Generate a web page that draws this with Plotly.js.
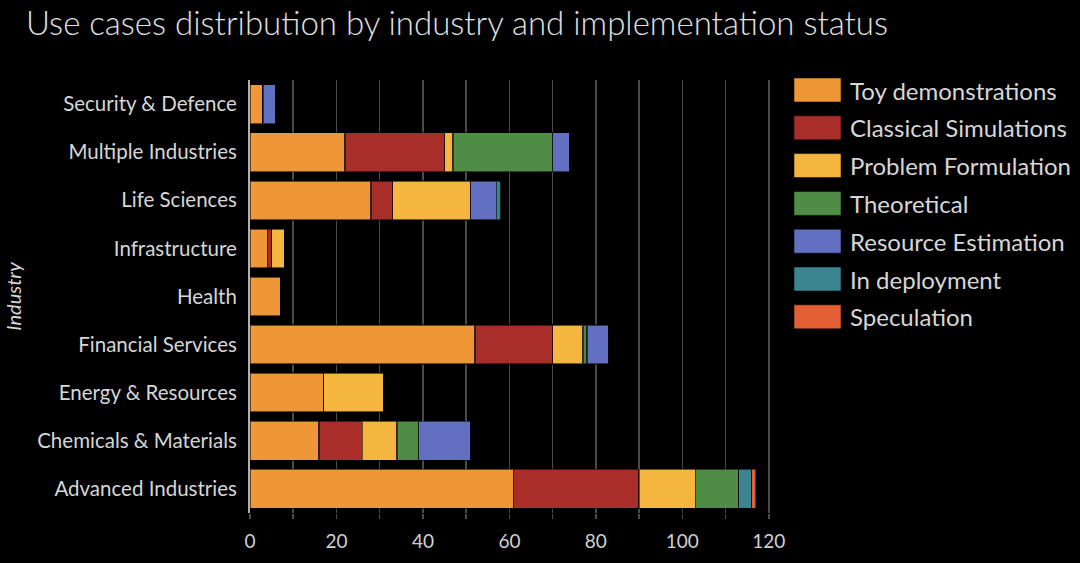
<!DOCTYPE html>
<html>
<head>
<meta charset="utf-8">
<script src="https://cdn.plot.ly/plotly-3.0.1.min.js"></script>
<style>html,body{margin:0;padding:0;background:#000;}#chart{width:1080px;height:563px;}</style>
</head>
<body>
<div id="chart"></div>
<script>
// Categories (bottom to top)
const industries = ['Advanced Industries', 'Chemicals & Materials', 'Energy & Resources', 'Financial Services', 'Health', 'Infrastructure', 'Life Sciences', 'Multiple Industries', 'Security & Defence'];
const seriesNames = ['Toy demonstrations', 'Classical Simulations', 'Problem Formulation', 'Theoretical', 'Resource Estimation', 'In deployment', 'Speculation'];
const toyDemonstrations    = [61, 16, 17, 52, 7, 4, 28, 22, 3];
const classicalSimulations = [29, 10, 0, 18, 0, 1, 5, 23, 0];
const problemFormulation   = [13, 8, 14, 7, 0, 3, 18, 2, 0];
const theoretical          = [10, 5, 0, 1, 0, 0, 0, 23, 0];
const resourceEstimation   = [0, 12, 0, 5, 0, 0, 6, 4, 3];
const inDeployment         = [3, 0, 0, 0, 0, 0, 1, 0, 0];
const speculation          = [1, 0, 0, 0, 0, 0, 0, 0, 0];
const seriesValues = [toyDemonstrations, classicalSimulations, problemFormulation, theoretical, resourceEstimation, inDeployment, speculation];
const seriesColors = ['#EF9636', '#A92D28', '#F4B63F', '#4F8C45', '#6170C0', '#3A8590', '#E25F33'];
const xTicks = [0, 20, 40, 60, 80, 100, 120];

const traces = seriesNames.map((name, i) => ({
  type: 'bar', orientation: 'h', name: name,
  y: industries, x: seriesValues[i],
  marker: {color: seriesColors[i], line: {color: 'rgba(0,0,0,0.55)', width: 1.5}},
  showlegend: false, hoverinfo: 'x+y+name'
}));

// custom legend (large swatches like the reference)
const W = 1080, H = 563;
const mL = 250, mR = 306, mT = 80, mB = 50;
const pw = W - mL - mR, ph = H - mT - mB;
const px2x = p => (p - mL) / pw;
const py2y = p => 1 - (p - mT) / ph;
const shapes = [];
const annotations = [];
seriesNames.forEach((name, i) => {
  const cy = 90 + i * 37.8;
  shapes.push({type: 'rect', xref: 'paper', yref: 'paper',
    x0: px2x(794), x1: px2x(841), y0: py2y(cy - 12), y1: py2y(cy + 12),
    fillcolor: seriesColors[i], line: {color: 'rgba(0,0,0,0.5)', width: 1}});
  annotations.push({xref: 'paper', yref: 'paper', x: px2x(848), y: py2y(cy),
    xanchor: 'left', yanchor: 'middle', showarrow: false, text: name,
    font: {size: 24, color: '#d6d6d6'}});
});

const layout = {
  width: W, height: H,
  paper_bgcolor: '#000', plot_bgcolor: '#000',
  font: {family: 'Lato, "Open Sans", sans-serif', color: '#d6d6d6'},
  margin: {l: mL, r: mR, t: mT, b: mB, pad: 0},
  title: {text: 'Use cases distribution by industry and implementation status',
    x: 26 / W, xanchor: 'left', y: 1 - 23 / H, yanchor: 'middle', xref: 'container', yref: 'container',
    font: {size: 33, color: '#e0e0e0', family: 'Lato, sans-serif', weight: 300}},
  barmode: 'stack', bargap: 0.19,
  xaxis: {range: [0, 121.2], tickvals: xTicks, showgrid: true, gridcolor: '#4a4a4a', gridwidth: 1.5,
    minor: {dtick: 10, showgrid: true, gridcolor: '#4a4a4a', gridwidth: 1.5, ticks: 'outside', ticklen: 5, tickcolor: '#4a4a4a'},
    ticks: 'outside', ticklen: 5, tickcolor: '#4a4a4a', tickwidth: 1.5,
    zeroline: false, showline: false,
    tickfont: {size: 19, color: '#d0d0d0'}, ticklabelstandoff: 6},
  yaxis: {showline: true, linecolor: '#b0b0b0', linewidth: 2, showgrid: false,
    ticks: '', tickfont: {size: 20.5, color: '#d6d6d6'}, ticklabelstandoff: 7,
    title: {text: 'Industry', font: {size: 20, color: '#d6d6d6'}, standoff: 10}},
  shapes: shapes, annotations: annotations
};

Plotly.newPlot('chart', traces, layout, {displayModeBar: false, staticPlot: true}).then(() => {
  const yt = document.querySelector('.ytitle');
  if (yt) yt.style.fontStyle = 'italic';
});
</script>
</body>
</html>
